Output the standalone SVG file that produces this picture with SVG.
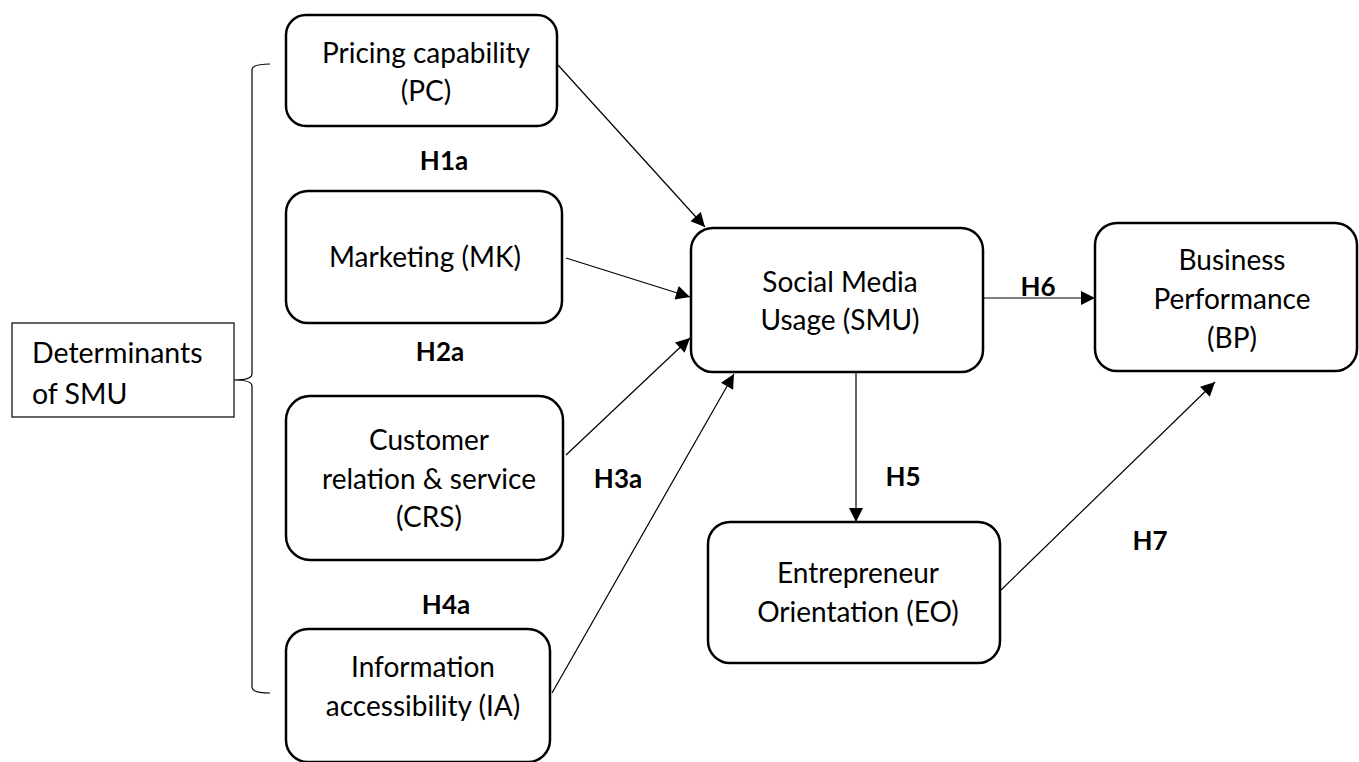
<svg xmlns="http://www.w3.org/2000/svg" width="1359" height="762" viewBox="0 0 1359 762">
<style>
.box{fill:#fff;stroke:#000;stroke-width:2.5}
.plain{fill:#fff;stroke:#000;stroke-width:1.2}
.t{font-family:Lato,"Liberation Sans",sans-serif;font-size:28px;fill:#000;text-anchor:middle}
.tl{font-family:Lato,"Liberation Sans",sans-serif;font-size:28.5px;fill:#000}
.h{font-family:Lato,"Liberation Sans",sans-serif;font-size:26px;font-weight:bold;fill:#000;text-anchor:middle}
.c{fill:none;stroke:#000;stroke-width:1.2}
</style>
<defs>
<marker id="ah" viewBox="0 0 10 10" refX="10" refY="5" markerWidth="15" markerHeight="14" markerUnits="userSpaceOnUse" orient="auto">
<path d="M0,0 L10,5 L0,10 z" fill="#000"/>
</marker>
</defs>
<rect width="1359" height="762" fill="#fff"/>
<g id="determinants">
<rect class="plain" x="12" y="323" width="222" height="94"/>
<text class="tl" x="32" y="363">Determinants</text>
<text class="tl" x="32" y="404">of SMU</text>
</g>
<g id="bracket">
<path class="c" d="M270,64 Q252,64 252,70 L252,374 Q252,380 234,380 Q252,380 252,386 L252,687 Q252,693 270,693"/>
</g>
<g id="pc">
<rect class="box" x="286" y="15" width="271" height="111" rx="20"/>
<text class="t" x="426" y="63">Pricing capability</text>
<text class="t" x="426" y="101">(PC)</text>
</g>
<g id="mk">
<rect class="box" x="286" y="191" width="276" height="132" rx="22"/>
<text class="t" x="425" y="267">Marketing (MK)</text>
</g>
<g id="crs">
<rect class="box" x="286" y="396" width="277" height="164" rx="24"/>
<text class="t" x="429" y="450">Customer</text>
<text class="t" x="429" y="489">relation &amp; service</text>
<text class="t" x="429" y="527">(CRS)</text>
</g>
<g id="ia">
<rect class="box" x="286" y="629" width="264" height="133" rx="22"/>
<text class="t" x="423" y="677">Information</text>
<text class="t" x="423" y="716">accessibility (IA)</text>
</g>
<g id="smu">
<rect class="box" x="691" y="228" width="292" height="144" rx="22"/>
<text class="t" x="840" y="292">Social Media</text>
<text class="t" x="840" y="330">Usage (SMU)</text>
</g>
<g id="bp">
<rect class="box" x="1095" y="223" width="262" height="148" rx="22"/>
<text class="t" x="1232" y="270">Business</text>
<text class="t" x="1232" y="309">Performance</text>
<text class="t" x="1232" y="348">(BP)</text>
</g>
<g id="eo">
<rect class="box" x="708" y="522" width="292" height="141" rx="22"/>
<text class="t" x="858" y="583">Entrepreneur</text>
<text class="t" x="858" y="622">Orientation (EO)</text>
</g>
<g id="connectors">
<line class="c" x1="558" y1="65" x2="705" y2="227" marker-end="url(#ah)"/>
<line class="c" x1="566" y1="258" x2="690" y2="297" marker-end="url(#ah)"/>
<line class="c" x1="566" y1="455" x2="690" y2="338" marker-end="url(#ah)"/>
<line class="c" x1="552" y1="693" x2="734" y2="374" marker-end="url(#ah)"/>
<line class="c" x1="983" y1="298" x2="1095" y2="298" marker-end="url(#ah)"/>
<line class="c" x1="856" y1="372" x2="856" y2="522" marker-end="url(#ah)"/>
<line class="c" x1="1001" y1="590" x2="1215" y2="382" marker-end="url(#ah)"/>
</g>
<g id="labels">
<text class="h" x="444" y="170">H1a</text>
<text class="h" x="440" y="361">H2a</text>
<text class="h" x="618" y="488">H3a</text>
<text class="h" x="446" y="614">H4a</text>
<text class="h" x="903" y="486">H5</text>
<text class="h" x="1038" y="296">H6</text>
<text class="h" x="1150" y="550">H7</text>
</g>
</svg>
